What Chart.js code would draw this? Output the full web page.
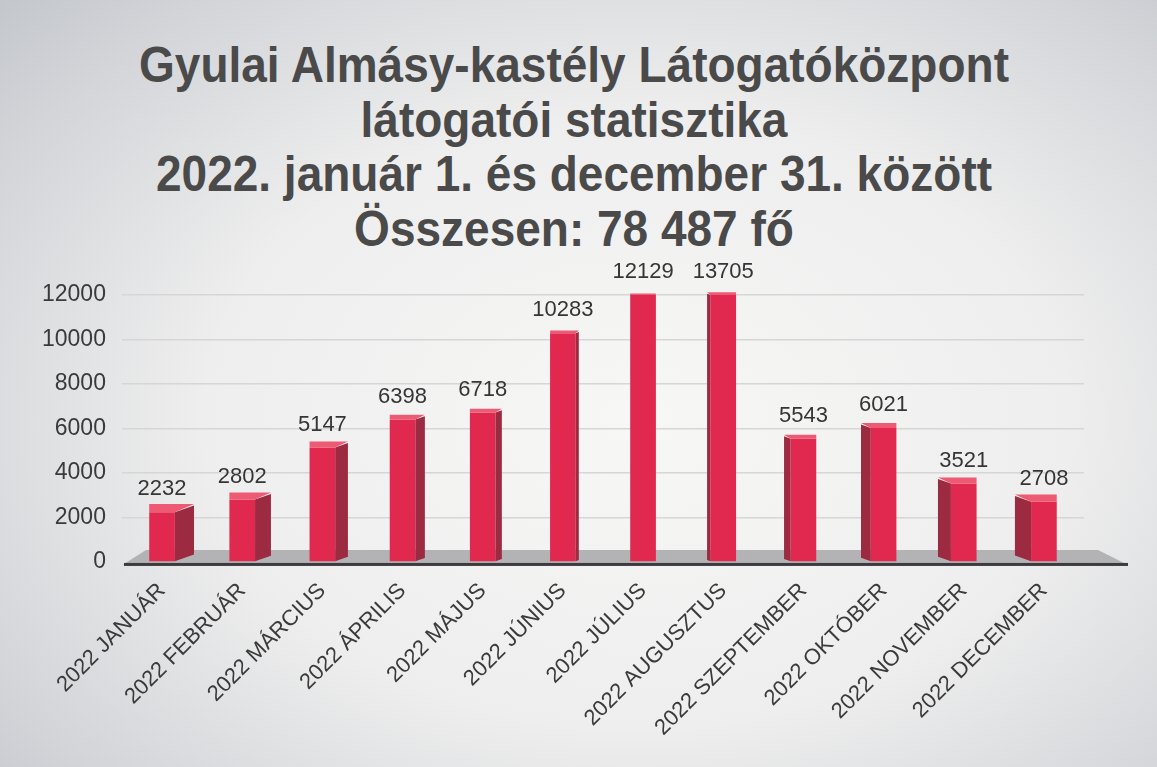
<!DOCTYPE html>
<html>
<head>
<meta charset="utf-8">
<script src="https://cdn.jsdelivr.net/npm/chart.js@4"></script>
<style>
  html, body { margin: 0; padding: 0; }
  body {
    width: 1157px; height: 767px; overflow: hidden; position: relative;
    background: radial-gradient(ellipse 75% 80% at 55% 55%, #f7f7f6 0%, #eeeeee 50%, #d2d4d8 85%, #c4c7cc 100%);
  }
  #title {
    position: absolute; left: 0; top: 38px; width: 1148px;
    text-align: center; color: #4a4a4a;
    font: bold 50px/54.7px "Liberation Sans", Arial, sans-serif;
    transform: scaleX(0.92); transform-origin: 574px 0;
    white-space: nowrap;
  }
  #wrap { position: absolute; left: 0; top: 0; width: 1157px; height: 767px; }
</style>
</head>
<body>
<div id="title"></div>
<div id="wrap"><canvas id="chart"></canvas></div>
<script>
// --- DATA --- //
const months = ['2022 JANUÁR', '2022 FEBRUÁR', '2022 MÁRCIUS', '2022 ÁPRILIS', '2022 MÁJUS', '2022 JÚNIUS',
  '2022 JÚLIUS', '2022 AUGUSZTUS', '2022 SZEPTEMBER', '2022 OKTÓBER', '2022 NOVEMBER', '2022 DECEMBER'];
const visitors = [2232, 2802, 5147, 6398, 6718, 10283, 12129, 13705, 5543, 6021, 3521, 2708];
const titleLines = [
  'Gyulai Almásy-kastély Látogatóközpont',
  'látogatói statisztika',
  '2022. január 1. és december 31. között',
  'Összesen: 78 487 fő'
];

// --- TITLE --- //
const titleBox = document.getElementById('title');
titleLines.forEach(line => {
  const div = document.createElement('div');
  div.textContent = line;
  titleBox.appendChild(div);
});

const FRONT = '#e1284f';
const SIDE = '#9c2a40';
const TOP = '#ee5a73';

// --- FLOOR + AXIS LINE --- //
const floorPlugin = {
  id: 'floor',
  beforeDatasetsDraw(chart) {
    const { ctx, chartArea } = chart;
    const base = chart.scales.y.getPixelForValue(0);
    ctx.save();
    ctx.fillStyle = '#b3b3b5';
    ctx.beginPath();
    ctx.moveTo(chartArea.left + 2, base + 2);
    ctx.lineTo(chartArea.left + 24, base - 12);
    ctx.lineTo(chartArea.right + 14, base - 12);
    ctx.lineTo(chartArea.right + 42, base + 2);
    ctx.closePath();
    ctx.fill();
    ctx.fillStyle = '#3c3c3e';
    ctx.fillRect(chartArea.left + 2, base + 1, chartArea.right + 42 - chartArea.left, 3);
    ctx.restore();
  }
};

// --- SIDE FACES | 3D LOOK --- //
const sidePlugin = {
  id: 'sides',
  afterDatasetsDraw(chart) {
    const { ctx, chartArea } = chart;
    const meta = chart.getDatasetMeta(0);
    const vanish = 640;
    ctx.save();
    meta.data.forEach(bar => {
      const top = Math.max(bar.y, chartArea.top);
      const half = bar.width / 2;
      const depth = (vanish - bar.x) * 0.04;
      const edge = depth > 0 ? bar.x + half : bar.x - half;
      const lift = Math.abs(depth) * 0.35;
      ctx.fillStyle = SIDE;
      ctx.beginPath();
      ctx.moveTo(edge, top);
      ctx.lineTo(edge + depth, top - lift);
      ctx.lineTo(edge + depth, bar.base - lift);
      ctx.lineTo(edge, bar.base);
      ctx.closePath();
      ctx.fill();
      // thin top face
      ctx.fillStyle = TOP;
      ctx.beginPath();
      ctx.moveTo(bar.x - half, top);
      ctx.lineTo(bar.x + half, top);
      ctx.lineTo(bar.x + half + Math.max(depth, 0), top - lift - 1.5);
      ctx.lineTo(bar.x - half + Math.min(depth, 0), top - lift - 1.5);
      ctx.closePath();
      ctx.fill();
    });
    ctx.restore();
  }
};

// --- VALUE LABELS --- //
const valuePlugin = {
  id: 'values',
  afterDraw(chart) {
    const { ctx, chartArea } = chart;
    const meta = chart.getDatasetMeta(0);
    ctx.save();
    ctx.font = '22px "Liberation Sans", Arial, sans-serif';
    ctx.fillStyle = '#353535';
    ctx.textAlign = 'center';
    ctx.textBaseline = 'middle';
    meta.data.forEach((bar, i) => {
      const top = Math.max(bar.y, chartArea.top);
      ctx.fillText(String(visitors[i]), bar.x, top - 23);
    });
    ctx.restore();
  }
};

const ctx = document.getElementById('chart');

new Chart(ctx, {
  type: 'bar',
  data: {
    labels: months,
    datasets: [{
      data: visitors,
      backgroundColor: FRONT,
      borderWidth: 0,
      barPercentage: 0.32,
      categoryPercentage: 1,
      clip: 0
    }]
  },
  options: {
    responsive: true,
    maintainAspectRatio: false,
    animation: false,
    layout: { padding: { left: 26, right: 73, top: 295, bottom: 18 } },
    plugins: {
      legend: { display: false },
      tooltip: { enabled: false },
      title: { display: false }
    },
    scales: {
      x: {
        grid: { display: false },
        border: { display: false },
        ticks: {
          autoSkip: false,
          minRotation: 45,
          maxRotation: 45,
          padding: 8,
          color: '#3a3a3a',
          font: { family: "'Liberation Sans', Arial, sans-serif", size: 22 }
        }
      },
      y: {
        min: 0,
        max: 12000,
        ticks: {
          stepSize: 2000,
          padding: 16,
          color: '#3a3a3a',
          font: { family: "'Liberation Sans', Arial, sans-serif", size: 23 },
          callback: value => String(value)
        },
        grid: {
          drawTicks: false,
          color: c => (c.tick.value === 0 ? 'rgba(0,0,0,0)' : '#d6d6d6'),
          lineWidth: 1.5
        },
        border: { display: false }
      }
    }
  },
  plugins: [floorPlugin, sidePlugin, valuePlugin]
});
</script>
</body>
</html>
